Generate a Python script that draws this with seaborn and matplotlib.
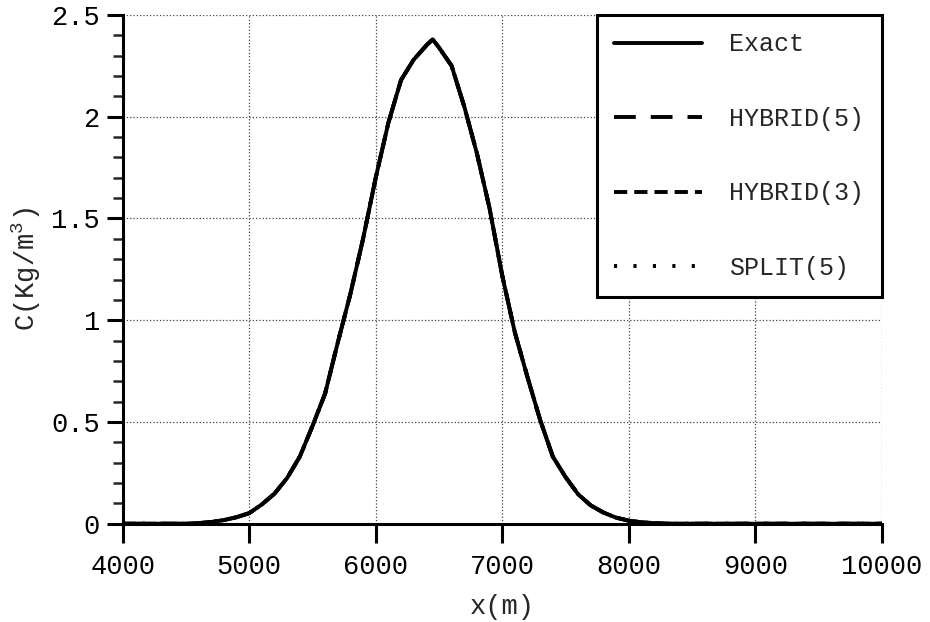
import numpy as np
import pandas as pd
import matplotlib
matplotlib.use('Agg')
import matplotlib.pyplot as plt
import seaborn as sns

# Значения
x_m = [4000, 4200, 4400, 4500, 4600, 4700, 4800, 4900, 5000, 5100, 5200, 5300,
       5400, 5500, 5600, 5700, 5800, 5900, 6000, 6100, 6200, 6300, 6400, 6450,
       6500, 6600, 6700, 6800, 6900, 7000, 7100, 7200, 7300, 7400, 7500, 7600,
       7700, 7800, 7900, 8000, 8100, 8200, 8300, 8600, 9000, 9500, 10000]
exact = [0, 0, 0, 0, 0.003, 0.008, 0.018, 0.032, 0.052, 0.095, 0.148, 0.225,
         0.33, 0.48, 0.64, 0.89, 1.13, 1.40, 1.70, 1.97, 2.18, 2.28, 2.35, 2.38,
         2.34, 2.25, 2.05, 1.82, 1.55, 1.22, 0.94, 0.72, 0.51, 0.33, 0.23, 0.145,
         0.09, 0.055, 0.03, 0.015, 0.007, 0.003, 0, 0, 0, 0, 0]
# остальные схемы на рисунке совпадают с точным решением
hybrid5 = list(exact)
hybrid3 = list(exact)
split5 = list(exact)

series_names = ['Exact', 'HYBRID(5)', 'HYBRID(3)', 'SPLIT(5)']
x_ticks = [4000, 5000, 6000, 7000, 8000, 9000, 10000]
y_ticks = [0, 0.5, 1, 1.5, 2, 2.5]
y_tick_labels = ['0', '0.5', '1', '1.5', '2', '2.5']

df = pd.DataFrame({'x': x_m, 'Exact': exact, 'HYBRID(5)': hybrid5,
                   'HYBRID(3)': hybrid3, 'SPLIT(5)': split5})

sns.set_style('ticks')
plt.rcParams['font.family'] = ['Liberation Mono', 'DejaVu Sans Mono']
plt.rcParams['mathtext.fontset'] = 'custom'
plt.rcParams['mathtext.rm'] = 'Liberation Mono'
plt.rcParams['mathtext.it'] = 'Liberation Mono'

fig = plt.figure(figsize=(9.3, 6.22), dpi=100)
ax = fig.add_axes([0.132, 0.158, 0.816, 0.818])

lw = 2.8
styles = {'Exact': '-',
          'HYBRID(5)': (0, (5.6, 3.85)),
          'HYBRID(3)': (0, (3.4, 1.8)),
          'SPLIT(5)': (0, (0.8, 4.2))}
zorders = {'Exact': 5, 'HYBRID(5)': 4, 'HYBRID(3)': 3, 'SPLIT(5)': 2}

for name in series_names:
    sns.lineplot(data=df, x='x', y=name, ax=ax, color='black', lw=lw,
                 linestyle=styles[name], label=name, zorder=zorders[name])

ax.set_xlim(4000, 10000)
ax.set_ylim(0, 2.5)
ax.set_xticks(x_ticks)
ax.set_yticks(y_ticks)
ax.set_yticklabels(y_tick_labels)
ax.set_yticks(np.arange(0, 2.51, 0.1), minor=True)

ax.grid(True, which='major', linestyle=':', color='#444444', linewidth=0.9)
for s in ['top', 'right']:
    ax.spines[s].set_visible(False)
for s in ['left', 'bottom']:
    ax.spines[s].set_linewidth(2.2)
    ax.spines[s].set_color('black')

ax.tick_params(axis='x', which='major', length=14, width=2.2, labelsize=19.5, pad=8)
ax.tick_params(axis='y', which='major', length=11.5, width=2.2, labelsize=19.5, pad=5)
ax.tick_params(axis='y', which='minor', length=7, width=1.8)
ax.tick_params(colors='black')

ax.set_xlabel('x(m)', fontsize=19.5, labelpad=10)
ax.set_ylabel('C(Kg/m$^{3}$)', fontsize=19.5, labelpad=6)

leg = ax.legend(loc='upper right', bbox_to_anchor=(1.0, 1.0), borderaxespad=0,
                fontsize=18, handlelength=3.5, handletextpad=1.1,
                labelspacing=2.02, borderpad=0.7, fancybox=False, framealpha=1,
                edgecolor='black')
leg.get_frame().set_linewidth(2.2)
leg.set_zorder(10)

fig.savefig('out.png', dpi=100)
